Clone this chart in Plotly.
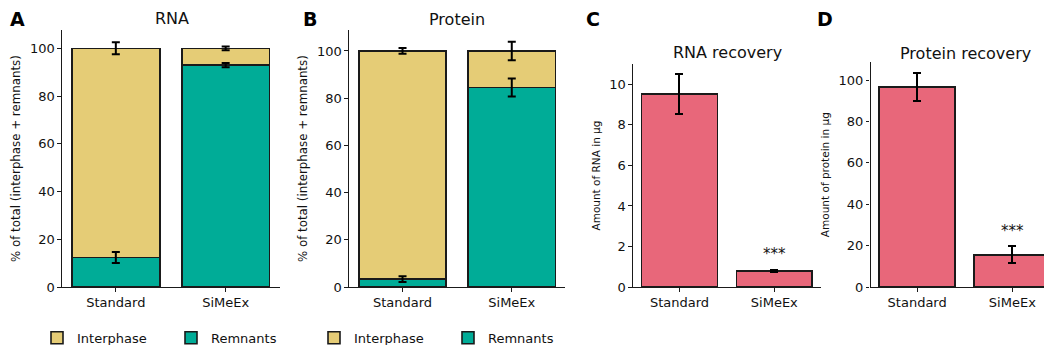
import plotly.graph_objects as go

W, H = 1052, 345

methods = ["Standard", "SiMeEx"]

# Panel A: RNA distribution (% of total)
rna_remnants = [12.4, 93.0]
rna_remnants_err = [2.3, 0.9]
rna_interphase = [87.6, 7.0]
rna_interphase_err = [2.5, 0.8]

# Panel B: Protein distribution (% of total)
prot_remnants = [3.4, 84.5]
prot_remnants_err = [1.2, 3.8]
prot_interphase = [96.6, 15.5]
prot_interphase_err = [1.2, 3.9]

# Panel C: RNA recovery (µg)
rna_recovery = [9.52, 0.79]
rna_recovery_err = [0.97, 0.05]

# Panel D: Protein recovery (µg)
prot_recovery = [96.6, 15.6]
prot_recovery_err = [6.6, 4.1]

YELLOW = "#E5CC76"
TEAL = "#00AC97"
PINK = "#E8677A"
EDGE = "#1a1a1a"
FONT = "DejaVu Sans"


def px_x(p):
    return p / W


def px_y(p):
    return 1 - p / H


fig = go.Figure()

err_style = dict(type="data", color="black", thickness=2, width=4, visible=True)
line_style = dict(color=EDGE, width=1.6)


def add_stacked(remnants, remnants_err, interphase, interphase_err, sx, legend):
    fig.add_trace(go.Bar(x=methods, y=remnants, name="Remnants", marker=dict(color=TEAL, line=line_style),
                         width=0.8, xaxis="x" + sx, yaxis="y" + sx, legend=legend))
    fig.add_trace(go.Bar(x=methods, y=interphase, name="Interphase", marker=dict(color=YELLOW, line=line_style),
                         width=0.8, xaxis="x" + sx, yaxis="y" + sx, legend=legend))
    # error bars drawn on top of the stacked segments
    tops = [r + i for r, i in zip(remnants, interphase)]
    for yv, ev in [(remnants, remnants_err), (tops, interphase_err)]:
        fig.add_trace(go.Scatter(x=methods, y=yv, mode="markers",
                                 marker=dict(color="rgba(0,0,0,0)", size=1),
                                 error_y=dict(array=ev, **err_style), showlegend=False,
                                 hoverinfo="skip", xaxis="x" + sx, yaxis="y" + sx))


add_stacked(rna_remnants, rna_remnants_err, rna_interphase, rna_interphase_err, "", "legend")
add_stacked(prot_remnants, prot_remnants_err, prot_interphase, prot_interphase_err, "2", "legend2")

# Panel C
fig.add_trace(go.Bar(x=methods, y=rna_recovery, marker=dict(color=PINK, line=line_style),
                     error_y=dict(array=rna_recovery_err, **err_style), width=0.8,
                     xaxis="x3", yaxis="y3", showlegend=False))
# Panel D
fig.add_trace(go.Bar(x=methods, y=prot_recovery, marker=dict(color=PINK, line=line_style),
                     error_y=dict(array=prot_recovery_err, **err_style), width=0.8,
                     xaxis="x4", yaxis="y4", showlegend=False))

bottom = px_y(285.7)
domains_x = [(54, 271.5), (341, 557.3), (625, 812.8), (862.5, 1051)]
tops_px = [22.7, 22.7, 57.3, 55.5]
yranges = [[0, 107.6], [0, 108.8], [0, 11.0], [0, 108.6]]
ydticks = [20, 20, 2, 20]
ytitles = ["% of total (interphase + remnants)", "% of total (interphase + remnants)",
           "Amount of RNA in µg", "Amount of protein in µg"]
ytitle_size = [11.8, 11.8, 10.5, 10.5]

axis_common = dict(showline=True, linecolor=EDGE, linewidth=1.3, ticks="outside", ticklen=3.5,
                   tickwidth=1.2, tickcolor=EDGE, showgrid=False, zeroline=False,
                   tickfont=dict(family=FONT, size=13, color="#111"))

layout = {}
for i in range(4):
    sx = "" if i == 0 else str(i + 1)
    layout["xaxis" + sx] = dict(domain=[px_x(domains_x[i][0]), px_x(domains_x[i][1])],
                                range=[-0.49, 1.49], anchor="y" + sx, **axis_common)
    layout["yaxis" + sx] = dict(domain=[bottom, px_y(tops_px[i])], range=yranges[i], dtick=ydticks[i],
                                anchor="x" + sx,
                                title=dict(text=ytitles[i], standoff=6,
                                           font=dict(family=FONT, size=ytitle_size[i], color="#111")),
                                **axis_common)

fig.update_layout(**layout)

annotations = []
# Panel letters
for letter, xp in [("A", 0), ("B", 293), ("C", 576), ("D", 807)]:
    annotations.append(dict(text="<b>%s</b>" % letter, x=px_x(xp), y=px_y(11), xref="paper", yref="paper",
                            xanchor="left", yanchor="middle", showarrow=False,
                            font=dict(family=FONT, size=19, color="black")))
# Panel titles
for t, xc, yc in [("RNA", 163.5, 11), ("Protein", 449, 11.5), ("RNA recovery", 719, 46),
                  ("Protein recovery", 957, 46.5)]:
    annotations.append(dict(text=t, x=px_x(xc), y=px_y(yc), xref="paper", yref="paper",
                            xanchor="center", yanchor="middle", showarrow=False,
                            font=dict(family=FONT, size=16, color="#111")))
# Significance markers
annotations.append(dict(text="***", x="SiMeEx", y=rna_recovery[1] + rna_recovery_err[1] + 0.8,
                        xref="x3", yref="y3", showarrow=False, yanchor="middle",
                        font=dict(family=FONT, size=15, color="#111")))
annotations.append(dict(text="***", x="SiMeEx", y=prot_recovery[1] + prot_recovery_err[1] + 7.5,
                        xref="x4", yref="y4", showarrow=False, yanchor="middle",
                        font=dict(family=FONT, size=15, color="#111")))

legend_common = dict(orientation="h", yanchor="middle", y=px_y(337.7), xanchor="left",
                     traceorder="reversed", font=dict(family=FONT, size=13, color="#111"),
                     bgcolor="rgba(0,0,0,0)", entrywidth=89, entrywidthmode="pixels",
                     itemclick=False, itemdoubleclick=False)

fig.update_layout(
    width=W, height=H,
    margin=dict(l=0, r=0, t=0, b=0),
    paper_bgcolor="white", plot_bgcolor="white",
    barmode="stack", bargap=0.2,
    showlegend=True,
    legend=dict(x=px_x(29), **legend_common),
    legend2=dict(x=px_x(306), **legend_common),
    annotations=annotations,
    font=dict(family=FONT),
)

fig.write_html("out.html")
